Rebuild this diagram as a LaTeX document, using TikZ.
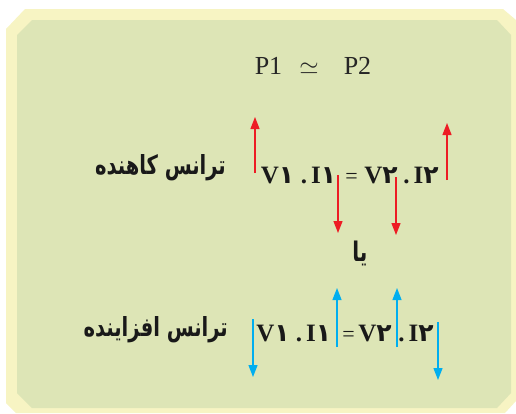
\documentclass[tikz,border=0pt]{standalone}
\usepackage{fontspec}
\usepackage{graphicx}
\setmainfont{Liberation Serif}
\newfontfamily\fa[Script=Arabic]{DejaVu Sans}
\TeXXeTstate=1
\usetikzlibrary{arrows.meta}
\definecolor{bggreen}{HTML}{DDE5B6}
\definecolor{bgyellow}{HTML}{F7F4C3}
\definecolor{arrred}{HTML}{ED1C24}
\definecolor{arrblue}{HTML}{00AEEF}
\newcommand{\fd}[1]{{\fa\bfseries #1}}
\newcommand{\fatall}[1]{\scalebox{1.0}[1.35]{#1}}
\begin{document}
\begin{tikzpicture}[x=1pt,y=-1pt,
  eqtext/.style={inner sep=0pt, anchor=base, text=black!90, font=\fontsize{25}{30}\selectfont\bfseries},
  eqsign/.style={inner sep=0pt, anchor=base, text=black!90, font=\fontsize{22}{26}\selectfont},
  ptext/.style={inner sep=0pt, anchor=base, text=black!85, font=\fontsize{26}{30}\selectfont},
  falabel/.style={inner sep=0pt, anchor=base east, text=black!90, font=\fontsize{19.5}{24}\selectfont\fa\bfseries},
  redarrow/.style={draw=arrred, line width=1.3pt, -{Triangle[length=12pt,width=9pt]}},
  bluearrow/.style={draw=arrblue, line width=1.3pt, -{Triangle[length=12pt,width=9pt]}}]
\useasboundingbox (0,0) rectangle (516,413);
% frame
\fill[bgyellow] (6,29) -- (25,9) -- (503,9) -- (516,20) -- (516,401) -- (505,413) -- (16,413) -- (6,403) -- cycle;
\fill[bggreen] (17,35) -- (32,20) -- (497,20) -- (511,35) -- (511,393) -- (497,408) -- (32,408) -- (17,393) -- cycle;
% P1 ~ P2
\node[ptext] (p1) at (268.5,74) {P1};
\node[ptext] (sim) at (309,74) {$\simeq$};
\node[ptext] (p2) at (357.5,74) {P2};
% row 1 (step-down)
\node[falabel] (down) at (226,174) {\fatall{\beginR ترانس کاهنده\endR}};
\node[eqtext] (a1) at (277.5,183) {V\fd{۱}};
\node[eqtext] (a2) at (318.5,183) {.\,I\fd{۱}};
\node[eqsign] (a3) at (351.5,183) {=};
\node[eqtext] (a4) at (381,183) {V\fd{۲}};
\node[eqtext] (a5) at (421,183) {.\,I\fd{۲}};
\coordinate (r1s) at (255,173); \coordinate (r1e) at (255,117);
\coordinate (r2s) at (338,175); \coordinate (r2e) at (338,233);
\coordinate (r3s) at (396,177); \coordinate (r3e) at (396,235);
\coordinate (r4s) at (447,180); \coordinate (r4e) at (447,123);
\draw[redarrow] (r1s) -- (r1e);
\draw[redarrow] (r2s) -- (r2e);
\draw[redarrow] (r3s) -- (r3e);
\draw[redarrow] (r4s) -- (r4e);
% ya
\node[inner sep=0pt, anchor=base, text=black!90, font=\fontsize{20}{24}\selectfont\fa\bfseries] (ya) at (360,261) {\fatall{\beginR یا\endR}};
% row 2 (step-up)
\node[falabel] (up) at (228,336) {\fatall{\beginR ترانس افزاینده\endR}};
\node[eqtext] (b1) at (273,341) {V\fd{۱}};
\node[eqtext] (b2) at (313.5,341) {.\,I\fd{۱}};
\node[eqsign] (b3) at (348.5,341) {=};
\node[eqtext] (b4) at (375,341) {V\fd{۲}};
\node[eqtext] (b5) at (416,341) {.\,I\fd{۲}};
\coordinate (s1s) at (253,319); \coordinate (s1e) at (253,377);
\coordinate (s2s) at (337,347); \coordinate (s2e) at (337,288);
\coordinate (s3s) at (397,347); \coordinate (s3e) at (397,288);
\coordinate (s4s) at (438,322); \coordinate (s4e) at (438,380);
\draw[bluearrow] (s1s) -- (s1e);
\draw[bluearrow] (s2s) -- (s2e);
\draw[bluearrow] (s3s) -- (s3e);
\draw[bluearrow] (s4s) -- (s4e);
\end{tikzpicture}
\end{document}
